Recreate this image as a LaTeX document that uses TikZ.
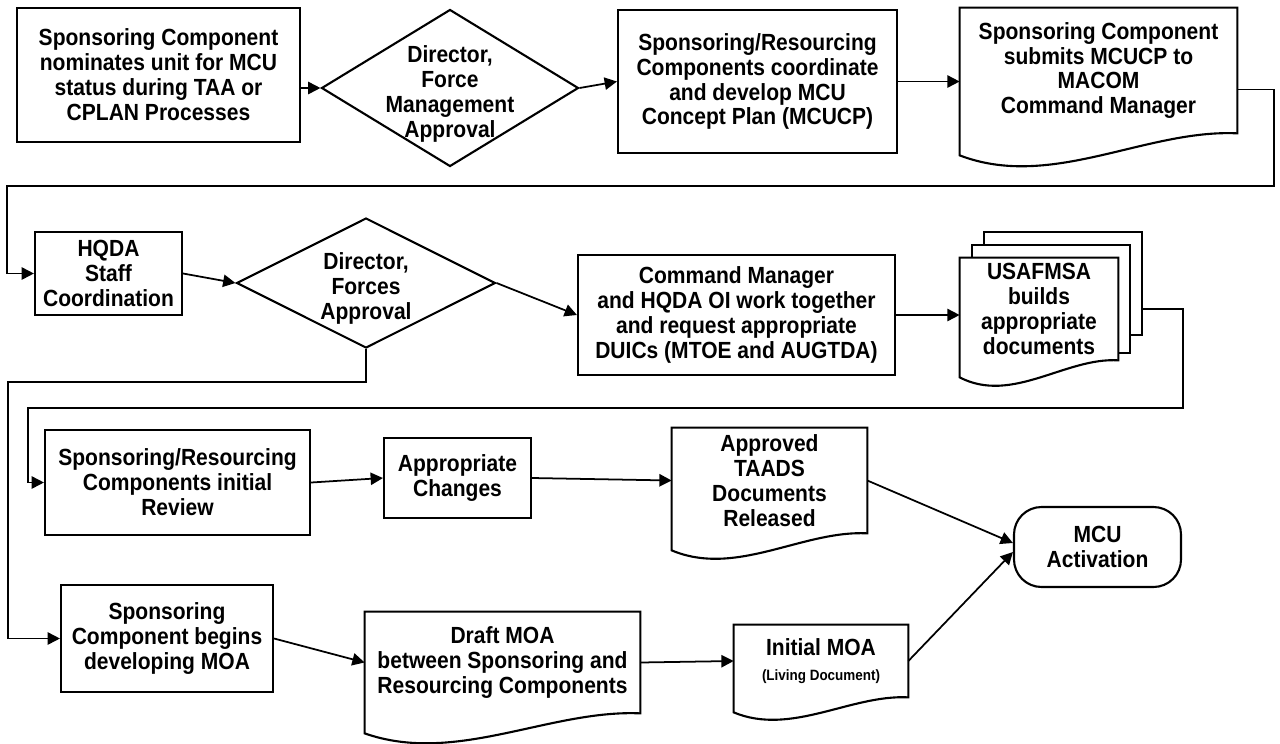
\documentclass[tikz,border=0pt]{standalone}
\usepackage{fontspec}
\setmainfont[FakeStretch=0.9]{Liberation Sans}
\usetikzlibrary{arrows.meta,shapes.geometric,calc}

% outline of a document node with a wavy bottom: name, drop of left corner (cm)
\newcommand{\docoutline}[2]{%
  \draw[line width=1.2pt] (#1.north west) -- ([yshift=-#2cm]#1.south west)
    .. controls ($(#1.south west)!0.33!(#1.south east)+(0,-2.6*#2)$)
           and ($(#1.south west)!0.67!(#1.south east)+(0,0.2*#2)$) .. (#1.south east)
    -- (#1.north east) -- cycle;}

\begin{document}
\begin{tikzpicture}[
    >={Triangle[length=7pt,width=7pt]},
    font=\fontsize{13.3}{14.2}\selectfont\bfseries,
    procbox/.style={
        draw,
        line width=1.2pt,
        align=center,
        inner sep=2pt
    },
    decision/.style={
        draw,
        diamond,
        line width=1.2pt,
        inner sep=0pt
    },
    docbox/.style={
        align=center,
        inner sep=0pt
    },
    terminal/.style={
        draw,
        line width=1.2pt,
        rounded corners=0.55cm,
        align=center
    },
    flow/.style={->, line width=1pt}
]

\useasboundingbox (0,0) rectangle (25.6,-14.86);

% --------------------------------------------------
% First row
% --------------------------------------------------

\node[procbox, minimum width=5.66cm, minimum height=2.68cm] (nominate) at (3.17,-1.50)
    {Sponsoring Component\\nominates unit for MCU\\status during TAA or\\CPLAN Processes};

\node[decision, minimum width=5.14cm, minimum height=3.14cm,
      label={[align=center, yshift=-0.12cm]center:{Director,\\Force\\Management\\Approval}}]
    (fma) at (9.0,-1.76) {};

\node[procbox, minimum width=5.58cm, minimum height=2.86cm] (develop) at (15.15,-1.63)
    {Sponsoring/Resourcing\\Components coordinate\\and develop MCU\\Concept Plan (MCUCP)};

\node[docbox, minimum width=5.54cm, minimum height=2.5cm] (submit) at (21.97,-1.41)
    {Sponsoring Component\\submits MCUCP to\\MACOM\\Command Manager};
\docoutline{submit}{0.44}

% --------------------------------------------------
% Second row
% --------------------------------------------------

\node[procbox, minimum width=2.94cm, minimum height=1.66cm] (hqda) at (2.17,-5.47)
    {HQDA\\Staff\\Coordination};

\node[decision, minimum width=5.18cm, minimum height=2.6cm,
      label={[align=center, yshift=-0.1cm]center:{Director,\\Forces\\Approval}}]
    (fa) at (7.32,-5.66) {};

\node[procbox, minimum width=6.34cm, minimum height=2.4cm] (request) at (14.73,-6.30)
    {Command Manager\\and HQDA OI work together\\and request appropriate\\DUICs (MTOE and AUGTDA)};

\node[docbox, minimum width=3.16cm, minimum height=2.04cm] (usafmsa) at (20.78,-6.18)
    {USAFMSA\\builds\\appropriate\\documents};
\docoutline{usafmsa}{0.34}
\draw[line width=1.2pt] ([xshift=0.24cm]usafmsa.north west) -- ++(0,0.26)
    -| ([xshift=0.24cm,yshift=-1.9cm]usafmsa.north east) -- ++(-0.24,0);
\draw[line width=1.2pt] ([xshift=0.48cm,yshift=0.26cm]usafmsa.north west) -- ++(0,0.26)
    -| ([xshift=0.48cm,yshift=-1.55cm]usafmsa.north east) -- ++(-0.24,0);

% --------------------------------------------------
% Third and fourth rows
% --------------------------------------------------

\node[procbox, minimum width=5.3cm, minimum height=2.1cm] (review) at (3.55,-9.65)
    {Sponsoring/Resourcing\\Components initial\\Review};

\node[procbox, minimum width=2.94cm, minimum height=1.6cm] (changes) at (9.15,-9.56)
    {Appropriate\\Changes};

\node[docbox, minimum width=3.9cm, minimum height=2.1cm] (approved) at (15.39,-9.61)
    {Approved\\TAADS\\Documents\\Released};
\docoutline{approved}{0.34}

\node[terminal, minimum width=3.34cm, minimum height=1.6cm] (mcu) at (21.95,-10.94)
    {MCU\\Activation};

\node[procbox, minimum width=4.24cm, minimum height=2.14cm] (beginmoa) at (3.34,-12.77)
    {Sponsoring\\Component begins\\developing MOA};

\node[docbox, minimum width=5.5cm, minimum height=2.02cm] (draftmoa) at (10.05,-13.25)
    {Draft MOA\\between Sponsoring and\\Resourcing Components};
\docoutline{draftmoa}{0.4}

\node[docbox, minimum width=3.48cm, minimum height=1.44cm] (initmoa) at (16.42,-13.22)
    {Initial MOA\\{\fontsize{8.5}{9}\selectfont (Living Document)}};
\docoutline{initmoa}{0.3}

% --------------------------------------------------
% Connectors
% --------------------------------------------------

\coordinate (loopA) at (25.48,-3.72);
\coordinate (loopB) at (0.16,-7.64);
\coordinate (loopC) at (23.66,-8.16);

\draw[flow] (nominate.east |- fma.west) -- (fma.west);
\draw[flow] (fma.east) -- (develop.west);
\draw[flow] (develop.east) -- (develop.east -| submit.west);
\draw[flow] ([yshift=-0.38cm]submit.east) -| (loopA) -| ([xshift=-0.54cm]hqda.west) -- (hqda.west);

\draw[flow] (hqda.east) -- (fa.west);
\draw[flow] (fa.east) -- (request.west);
\draw[flow] (request.east) -- (request.east -| usafmsa.west);
\draw[flow] ([xshift=0.48cm]usafmsa.east) -| (loopC) -| ([xshift=-0.32cm]review.west) -- (review.west);
\draw[flow] (fa.south) |- (loopB) |- (beginmoa.west);

\draw[flow] (review.east) -- (changes.west);
\draw[flow] (changes.east) -- (approved.west);
\draw[flow] (approved.east) -- ([yshift=0.08cm]mcu.west);

\draw[flow] (beginmoa.east) -- (draftmoa.west);
\draw[flow] (draftmoa.east) -- (initmoa.west);
\draw[flow] (initmoa.east) -- ([yshift=-0.1cm]mcu.west);

\end{tikzpicture}
\end{document}
